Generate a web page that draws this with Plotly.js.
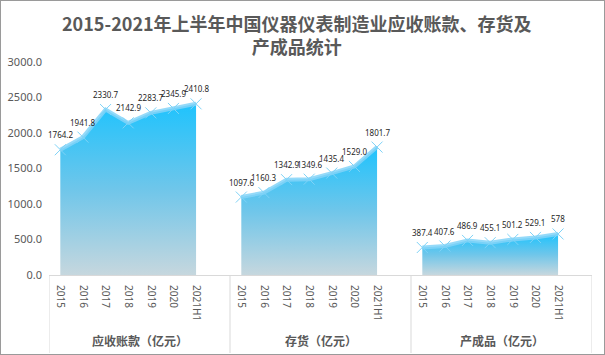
<!DOCTYPE html>
<html>
<head>
<meta charset="utf-8">
<script src="https://cdn.plot.ly/plotly-3.0.1.min.js"></script>
<style>
  html, body { margin: 0; padding: 0; background: #fff; }
  #chart { width: 603px; height: 353px; border: 1px solid #9a9a9a; }
</style>
</head>
<body>
<div id="chart"></div>
<script>
const categories = ["2015", "2016", "2017", "2018", "2019", "2020", "2021H1"];
const groupNames = ["应收账款（亿元）", "存货（亿元）", "产成品（亿元）"];
const receivables = [1764.2, 1941.8, 2330.7, 2142.9, 2283.7, 2345.9, 2410.8];
const inventory = [1097.6, 1160.3, 1342.9, 1349.6, 1435.4, 1529.0, 1801.7];
const finishedGoods = [387.4, 407.6, 486.9, 455.1, 501.2, 529.1, 578];
const labelText = [
  ["1764.2", "1941.8", "2330.7", "2142.9", "2283.7", "2345.9", "2410.8"],
  ["1097.6", "1160.3", "1342.9", "1349.6", "1435.4", "1529.0", "1801.7"],
  ["387.4", "407.6", "486.9", "455.1", "501.2", "529.1", "578"]
];
const titleText = "2015-2021年上半年中国仪器仪表制造业应收账款、存货及<br>产成品统计";
const series = [receivables, inventory, finishedGoods];

const SLOTS = 8; // 7 categories + 1 empty slot per group
const traces = series.map((vals, g) => ({
  type: 'scatter',
  mode: 'lines+markers',
  x: vals.map((v, i) => g * SLOTS + i),
  y: vals,
  fill: 'tozeroy',
  fillgradient: {
    type: 'vertical',
    start: 0,
    stop: Math.max(...vals),
    colorscale: [[0, '#c6d7de'], [0.5, '#6fc6ea'], [1, '#1fc3fd']]
  },
  line: { color: 'rgba(130,212,248,0.85)', width: 4 },
  marker: { symbol: 'x-thin', size: 11, color: '#7fd3f7', line: { color: '#7fd3f7', width: 1 } },
  cliponaxis: false,
  hoverinfo: 'skip',
  showlegend: false
}));

const tickvals = [];
const ticktext = [];
groupNames.forEach((n, g) => categories.forEach((c, i) => { tickvals.push(g * SLOTS + i); ticktext.push(c); }));

const plotH = 213;
const shapes = [0, 1, 2, 3].map(k => ({
  type: 'line', xref: 'x', yref: 'paper',
  x0: k * SLOTS - 0.5, x1: k * SLOTS - 0.5,
  y0: 0, y1: -(78 / plotH),
  line: { color: '#d9d9d9', width: 1 }
}));

const annotations = [];
groupNames.forEach((n, g) => annotations.push({
  text: n, xref: 'x', yref: 'paper',
  x: g * SLOTS + 3.5, y: -(65 / plotH),
  showarrow: false, xanchor: 'center', yanchor: 'middle',
  font: { family: 'Noto Sans CJK SC, sans-serif', size: 12, color: '#595959', weight: 'bold' }
}));
series.forEach((vals, g) => vals.forEach((v, i) => annotations.push({
  text: labelText[g][i], xref: 'x', yref: 'y',
  x: g * SLOTS + i, y: v, yshift: 15,
  showarrow: false, xanchor: 'center', yanchor: 'middle',
  font: { family: 'Noto Sans, sans-serif', size: 8, color: '#262626' }
})));
annotations.push({
  text: titleText, xref: 'paper', yref: 'paper',
  x: 0.457, y: 1 + 27 / plotH,
  showarrow: false, xanchor: 'center', yanchor: 'middle', align: 'center',
  font: { family: 'Noto Sans CJK SC, sans-serif', size: 18, color: '#595959', weight: 'bold' }
});

const layout = {
  width: 603, height: 353,
  margin: { l: 48, r: 12, t: 61, b: 79 },
  paper_bgcolor: '#ffffff', plot_bgcolor: '#ffffff',
  xaxis: {
    range: [-0.5, 3 * SLOTS - 0.5],
    tickmode: 'array', tickvals: tickvals, ticktext: ticktext,
    tickangle: 90, ticks: '', ticklabelstandoff: 7,
    tickfont: { family: 'Noto Sans, sans-serif', size: 10, color: '#595959' },
    showgrid: false, zeroline: false,
    showline: true, linecolor: '#d9d9d9', linewidth: 1
  },
  yaxis: {
    range: [0, 3000], dtick: 500, tickformat: '.1f',
    ticks: '', ticklabelstandoff: 6,
    tickfont: { family: 'Noto Sans, sans-serif', size: 11, color: '#595959' },
    showgrid: false, zeroline: false, showline: false
  },
  shapes: shapes,
  annotations: annotations
};

Plotly.newPlot('chart', traces, layout, { displayModeBar: false, staticPlot: true });
</script>
</body>
</html>
